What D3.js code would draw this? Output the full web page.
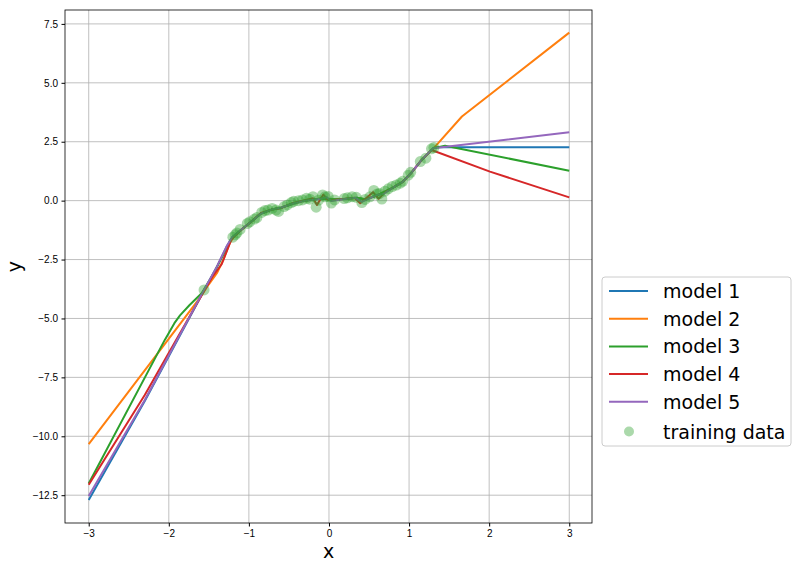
<!DOCTYPE html>
<html>
<head>
<meta charset="utf-8">
<script src="https://cdn.jsdelivr.net/npm/d3@7"></script>
<style>
  body { margin: 0; background: #fff; }
  svg { font-family: "DejaVu Sans", sans-serif; }
  .tick text { font-size: 10px; fill: #000; }
  .tick line { stroke: #000; }
  .grid line { stroke: #b0b0b0; stroke-width: 0.8; }
</style>
</head>
<body>
<svg width="799" height="568"></svg>
<script>
// tick labels
var xTicks = [-3, -2, -1, 0, 1, 2, 3];
var yTicks = [-12.5, -10, -7.5, -5, -2.5, 0, 2.5, 5, 7.5];

// series
var modelNames = ["model 1", "model 2", "model 3", "model 4", "model 5"];
var modelColors = ["#1f77b4", "#ff7f0e", "#2ca02c", "#d62728", "#9467bd"];

var model1 = [[-3, -12.7], [-2.3, -8.5], [-1.57, -3.88], [-1.4, -2.82], [-1.28, -1.97], [-1.21, -1.56],
    [-1.1, -1.26], [-0.98, -0.92], [-0.85, -0.56], [-0.72, -0.39], [-0.6, -0.3], [-0.45, -0.13],
    [-0.3, 0.0], [-0.18, 0.05], [-0.1, 0.08], [0.0, 0.06], [0.2, 0.07], [0.35, 0.12], [0.45, 0.05],
    [0.6, 0.22], [0.8, 0.55], [0.92, 0.8], [1.02, 1.15], [1.15, 1.7], [1.32, 2.27], [3, 2.27]];
var model2 = [[-3, -10.33], [-1.61, -4.12], [-1.5, -3.55], [-1.4, -3.08], [-1.32, -2.52], [-1.24, -1.81],
    [-1.18, -1.5], [-1.1, -1.26], [-0.98, -0.93], [-0.85, -0.55], [-0.72, -0.39], [-0.6, -0.3],
    [-0.45, -0.12], [-0.3, 0.0], [-0.18, 0.06], [-0.1, 0.09], [0.0, 0.06], [0.2, 0.07], [0.35, 0.11],
    [0.45, 0.06], [0.6, 0.22], [0.8, 0.55], [0.92, 0.8], [1.02, 1.15], [1.15, 1.7], [1.3, 2.2],
    [1.66, 3.57], [3, 7.13]];
var model3 = [[-3, -12.0], [-2.05, -5.91], [-1.93, -5.2], [-1.86, -4.87], [-1.74, -4.43], [-1.59, -3.93],
    [-1.45, -3.15], [-1.32, -2.3], [-1.22, -1.62], [-1.1, -1.25], [-0.98, -0.92], [-0.85, -0.55],
    [-0.72, -0.38], [-0.6, -0.3], [-0.45, -0.12], [-0.3, 0.01], [-0.18, 0.06], [-0.1, 0.09],
    [0.0, 0.06], [0.2, 0.07], [0.35, 0.12], [0.45, 0.05], [0.6, 0.22], [0.8, 0.55], [0.92, 0.8],
    [1.02, 1.15], [1.15, 1.7], [1.3, 2.22], [1.45, 2.33], [3, 1.27]];
var model4 = [[-3, -12.06], [-2.3, -8.25], [-1.57, -3.9], [-1.45, -3.2], [-1.34, -2.7], [-1.22, -1.65],
    [-1.1, -1.25], [-0.98, -0.92], [-0.85, -0.52], [-0.72, -0.38], [-0.6, -0.32], [-0.45, -0.1],
    [-0.3, 0.02], [-0.2, 0.1], [-0.15, -0.18], [-0.07, 0.26], [-0.02, 0.05], [0.05, 0.02],
    [0.25, 0.1], [0.32, 0.12], [0.39, -0.11], [0.55, 0.36], [0.62, 0.08], [0.7, 0.35], [0.8, 0.55],
    [0.92, 0.8], [1.02, 1.15], [1.15, 1.7], [1.28, 2.15], [2.01, 1.23], [3, 0.14]];
var model5 = [[-3, -12.53], [-2.3, -8.46], [-1.57, -3.85], [-1.4, -2.8], [-1.28, -1.95], [-1.21, -1.55],
    [-1.1, -1.25], [-0.98, -0.92], [-0.85, -0.55], [-0.72, -0.38], [-0.6, -0.3], [-0.45, -0.12],
    [-0.3, 0.0], [-0.18, 0.05], [-0.1, 0.08], [-0.03, 0.15], [0.03, -0.02], [0.2, 0.07], [0.33, 0.12],
    [0.41, -0.05], [0.52, 0.12], [0.6, 0.25], [0.68, 0.28], [0.8, 0.55], [0.92, 0.8], [1.02, 1.15],
    [1.15, 1.7], [1.3, 2.22], [3, 2.9]];
var models = [model1, model2, model3, model4, model5];

var trainX = [-1.56, -1.20, -1.17, -1.15, -1.11, -1.02, -0.99, -0.93, -0.90, -0.84, -0.80, -0.76,
    -0.71, -0.66, -0.63, -0.56, -0.52, -0.47, -0.44, -0.38, -0.33, -0.28, -0.24, -0.20, -0.16,
    -0.13, -0.08, -0.05, -0.01, 0.03, 0.07, 0.19, 0.23, 0.29, 0.34, 0.41, 0.45, 0.51, 0.56, 0.60,
    0.63, 0.66, 0.70, 0.74, 0.79, 0.84, 0.89, 0.92, 0.99, 1.02, 1.14, 1.21, 1.28, 1.31];
var trainY = [-3.79, -1.55, -1.45, -1.37, -1.22, -0.97, -0.90, -0.78, -0.72, -0.50, -0.42, -0.40,
    -0.33, -0.40, -0.46, -0.25, -0.18, -0.08, -0.03, 0.0, 0.03, 0.10, 0.06, 0.17, -0.28,
    0.02, 0.24, 0.16, 0.18, -0.10, 0.03, 0.09, 0.12, 0.17, 0.14, -0.08, 0.05, 0.16, 0.43, 0.28,
    0.30, 0.07, 0.40, 0.50, 0.60, 0.66, 0.74, 0.82, 1.08, 1.20, 1.66, 1.80, 2.20, 2.25];

var svg = d3.select("svg");
var margin = {left: 65, right: 207, top: 10, bottom: 45};
var W = 799, H = 568;
var plotW = W - margin.left - margin.right;
var plotH = H - margin.top - margin.bottom;

var x = d3.scaleLinear().domain([-3.296, 3.284]).range([0, plotW]);
var y = d3.scaleLinear().domain([-13.68, 8.09]).range([plotH, 0]);

var g = svg.append("g").attr("transform", "translate(" + margin.left + "," + margin.top + ")");

// grid
var grid = g.append("g").attr("class", "grid");
grid.selectAll(".gx").data(xTicks).enter().append("line")
    .attr("x1", d => x(d)).attr("x2", d => x(d)).attr("y1", 0).attr("y2", plotH);
grid.selectAll(".gy").data(yTicks).enter().append("line")
    .attr("y1", d => y(d)).attr("y2", d => y(d)).attr("x1", 0).attr("x2", plotW);

// lines
var line = d3.line().x(d => x(d[0])).y(d => y(d[1]));
g.selectAll(".model").data(models).enter().append("path")
    .attr("class", "model")
    .attr("d", line)
    .attr("fill", "none")
    .attr("stroke", (d, i) => modelColors[i])
    .attr("stroke-width", 2)
    .attr("stroke-linejoin", "round");

// training points
g.append("g").selectAll("circle").data(trainX).enter().append("circle")
    .attr("cx", d => x(d))
    .attr("cy", (d, i) => y(trainY[i]))
    .attr("r", 5.5)
    .attr("fill", "#2ca02c")
    .attr("fill-opacity", 0.4);

// axes
var xAxis = g.append("g").attr("transform", "translate(0," + plotH + ")")
    .call(d3.axisBottom(x).tickValues(xTicks).tickSize(3.5).tickPadding(3.5)
        .tickFormat(d => d3.format("d")(d).replace("-", "\u2212")));
var yAxis = g.append("g")
    .call(d3.axisLeft(y).tickValues(yTicks).tickSize(3.5).tickPadding(3.5)
        .tickFormat(d => d3.format(".1f")(d).replace("-", "\u2212")));
xAxis.select(".domain").remove();
yAxis.select(".domain").remove();

// frame
g.append("rect").attr("width", plotW).attr("height", plotH)
    .attr("fill", "none").attr("stroke", "#000").attr("stroke-width", 0.8);

// axis labels
g.append("text").attr("x", plotW / 2).attr("y", plotH + 35)
    .attr("text-anchor", "middle").attr("font-size", 19).text("x");
g.append("text").attr("transform", "translate(" + (21 - margin.left) + "," + (plotH / 2) + ") rotate(-90)")
    .attr("text-anchor", "middle").attr("font-size", 19).text("y");

// legend
var leg = svg.append("g").attr("transform", "translate(602,277)");
leg.append("rect").attr("width", 189).attr("height", 169).attr("rx", 3)
    .attr("fill", "#fff").attr("fill-opacity", 0.8).attr("stroke", "#cccccc");
var rowH = 27.7;
modelNames.forEach(function (name, i) {
    var ry = 14 + i * rowH;
    leg.append("line").attr("x1", 7).attr("x2", 46).attr("y1", ry).attr("y2", ry)
        .attr("stroke", modelColors[i]).attr("stroke-width", 2);
    leg.append("text").attr("x", 61).attr("y", ry + 7).attr("font-size", 19).text(name);
});
var ty = 14 + 5 * rowH + 2;
leg.append("circle").attr("cx", 27).attr("cy", ty).attr("r", 5)
    .attr("fill", "#2ca02c").attr("fill-opacity", 0.4);
leg.append("text").attr("x", 61).attr("y", ty + 7).attr("font-size", 19).text("training data");
</script>
</body>
</html>
